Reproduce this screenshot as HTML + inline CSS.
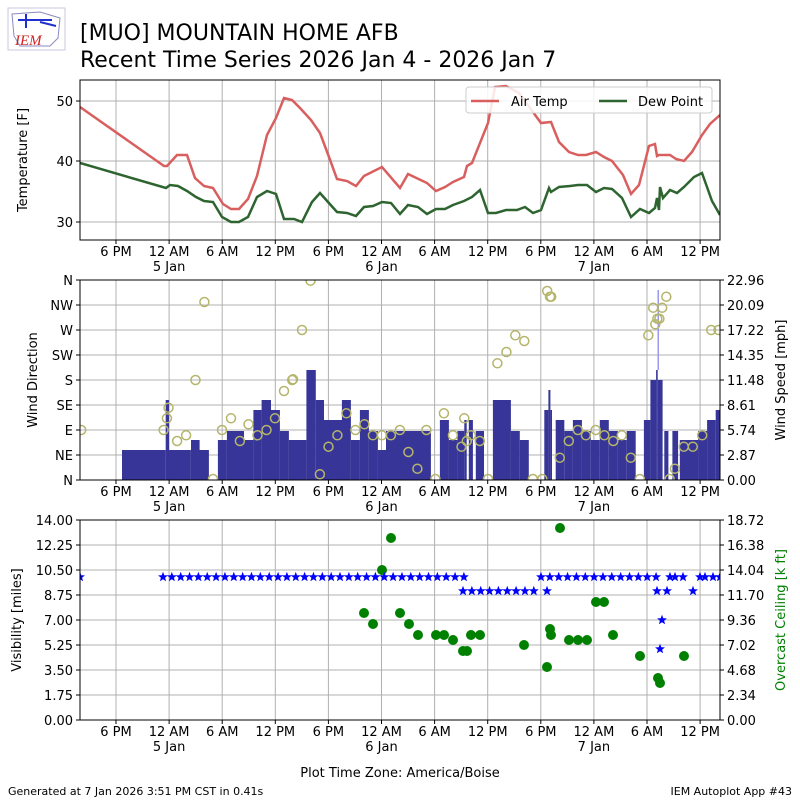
<!DOCTYPE html>
<html><head><meta charset="utf-8"><style>
body{margin:0;background:#fff}
svg{display:block;font-family:"DejaVu Sans","Liberation Sans",sans-serif}
</style></head><body>
<svg id="s" width="800" height="800" xmlns="http://www.w3.org/2000/svg">
<rect width="800" height="800" fill="#fff"/>
<rect x="8" y="8" width="57" height="42" fill="#fff" stroke="#c8c8e0"/>
<path d="M12 14 L40 12 L60 18 L58 38 L50 46 L20 46 L14 36 Z" fill="none" stroke="#8a8ac0" stroke-width="1"/>
<text x="15" y="45" font-family="Liberation Serif,serif" font-style="italic" font-size="15" fill="#d02020">IEM</text>
<path d="M18 20 L52 20 M26 14 L26 28 M40 22 L56 26" stroke="#2030d0" stroke-width="2"/>
<text x="80" y="40" font-size="22">[MUO] MOUNTAIN HOME AFB</text>
<text x="80" y="67" font-size="22">Recent Time Series 2026 Jan 4 - 2026 Jan 7</text>
<g id="g"></g>
<text x="8" y="795" font-size="11">Generated at 7 Jan 2026 3:51 PM CST in 0.41s</text>
<text x="792" y="795" font-size="11" text-anchor="end">IEM Autoplot App #43</text>
<text x="400" y="777" font-size="13" text-anchor="middle">Plot Time Zone: America/Boise</text>
</svg>
<script>
let h='';
const X=[];for(let i=0;i<12;i++)X.push(116+53.1*i);
const xl=['6 PM','12 AM','6 AM','12 PM','6 PM','12 AM','6 AM','12 PM','6 PM','12 AM','6 AM','12 PM'];
const dl={1:'5 Jan',5:'6 Jan',9:'7 Jan'};
function panel(top,bot,ys){
  h+=`<defs><clipPath id="c${top}"><rect x="80" y="${top}" width="640" height="${bot-top}"/></clipPath></defs>`;
  X.forEach(x=>h+=`<line x1="${x}" y1="${top}" x2="${x}" y2="${bot}" stroke="#b0b0b0" stroke-width="1"/>`);
  ys.forEach(y=>h+=`<line x1="80" y1="${y}" x2="720" y2="${y}" stroke="#b0b0b0" stroke-width="1"/>`);
  X.forEach((x,i)=>{h+=`<line x1="${x}" y1="${bot}" x2="${x}" y2="${bot+4}" stroke="#000"/><text x="${x}" y="${bot+16}" font-size="13" text-anchor="middle">${xl[i]}</text>`;
   if(dl[i])h+=`<text x="${x}" y="${bot+31}" font-size="13" text-anchor="middle">${dl[i]}</text>`;});
}
function frame(top,bot){h+=`<rect x="80" y="${top}" width="640" height="${bot-top}" fill="none" stroke="#000" stroke-width="1"/>`;}
function lt(y,t,x=73){h+=`<line x1="76" y1="${y}" x2="80" y2="${y}" stroke="#000"/><text x="${x}" y="${y+5}" font-size="13" text-anchor="end">${t}</text>`;}
function rt(y,t){h+=`<line x1="720" y1="${y}" x2="724" y2="${y}" stroke="#000"/><text x="727" y="${y+5}" font-size="13">${t}</text>`;}
panel(80,240,[101,161,222]);
const air=[[80,107],[164,166],[167,166],[177,155],[187,155],[195,178],[204,186],[213,188],[223,204],[231,209],[239,209],[248,199],[257,176],[267,135],[276,118],[284,98],[292,100],[300,108],[311,120],[320,133],[329,157],[337,179],[347,181],[356,186],[364,176],[382,167],[400,188],[408,174],[427,183],[436,191],[445,187],[453,182],[464,177],[467,166],[472,163],[488,123],[495,87],[506,86],[519,93],[541,123],[551,122],[559,142],[569,152],[578,155],[586,155],[596,152],[604,157],[612,161],[623,175],[631,194],[639,185],[649,146],[655,144],[657,156],[659,155],[670,155],[676,159],[684,161],[692,152],[702,135],[710,124],[720,115]];
const dew=[[80,163],[166,188],[170,185],[178,186],[187,191],[196,197],[204,201],[213,202],[222,217],[231,222],[239,222],[248,217],[257,197],[267,191],[276,194],[284,219],[294,219],[302,222],[312,202],[320,193],[328,202],[337,212],[347,213],[356,216],[364,207],[373,206],[382,202],[391,203],[400,214],[408,205],[418,207],[427,214],[436,209],[445,209],[453,205],[464,201],[472,197],[480,190],[488,213],[496,213],[506,210],[517,210],[525,207],[533,213],[541,210],[549,188],[551,192],[559,187],[570,186],[578,185],[587,185],[596,192],[604,188],[612,189],[622,198],[631,217],[640,209],[649,213],[655,208],[657,198],[659,210],[660,187],[663,198],[670,190],[677,193],[684,187],[694,177],[702,173],[712,201],[720,215]];
h+=`<g clip-path="url(#c80)"><polyline points="${air.join(' ')}" fill="none" stroke="#d95f5f" stroke-width="2.5"/><polyline points="${dew.join(' ')}" fill="none" stroke="#2e6430" stroke-width="2.5"/></g>`;
frame(80,240);
lt(222,'30');lt(161,'40');lt(101,'50');
h+=`<text transform="translate(27,160) rotate(-90)" font-size="13" text-anchor="middle">Temperature [F]</text>`;
h+=`<rect x="466" y="87" width="246" height="26" rx="3" fill="#fff" fill-opacity="0.85" stroke="#ccc"/>
<line x1="471" y1="101" x2="499" y2="101" stroke="#d95f5f" stroke-width="2.5"/><text x="511" y="106" font-size="13">Air Temp</text>
<line x1="599" y1="101" x2="627" y2="101" stroke="#2e6430" stroke-width="2.5"/><text x="638" y="106" font-size="13">Dew Point</text>`;
const ys2=[];for(let i=0;i<=8;i++)ys2.push(280+25*i);
panel(280,480,ys2);
const bars=[[103,210,450],[210,218,400],[218,272,450],[272,293,440],[293,316,450],[338,360,440],[360,402,431],[402,425,440],[425,445,410],[445,468,400],[468,490,410],[490,512,431],[512,555,440],[555,578,370],[578,598,400],[598,642,420],[642,664,400],[664,686,440],[686,708,410],[708,730,431],[730,750,450],[750,860,431],[882,904,420],[904,925,440],[925,942,431],[942,948,420],[953,963,420],[970,990,431],[1012,1056,400],[1056,1078,431],[1078,1100,440],[1138,1148,410],[1148,1153,390],[1153,1157,410],[1166,1187,420],[1187,1208,431],[1208,1230,420],[1230,1252,431],[1252,1274,440],[1274,1296,420],[1296,1318,431],[1318,1340,440],[1340,1362,431],[1382,1398,420],[1398,1412,380],[1412,1416,370],[1416,1428,380],[1432,1442,431],[1452,1466,431],[1470,1515,440],[1515,1537,431],[1537,1558,420],[1558,1570,410]];
const zx=v=>80+v*0.408;
h+='<g clip-path="url(#c280)">';
bars.forEach(b=>h+=`<rect x="${zx(b[0]).toFixed(1)}" y="${b[2]}" width="${(zx(b[1])-zx(b[0])).toFixed(1)}" height="${480-b[2]}" fill="#373597"/>`);
h+=`<rect x="657.5" y="290" width="1.5" height="80" fill="#9999ee"/>`;
const circ=[[3,450],[205,450],[213,415],[217,383],[238,483],[260,466],[283,300],[305,66],[326,597],[348,450],[370,415],[392,483],[413,433],[435,466],[457,450],[478,415],[500,333],[520,300],[522,298],[544,150],[565,2],[588,583],[609,500],[631,466],[653,400],[675,450],[697,433],[718,466],[740,466],[762,466],[784,450],[805,516],[827,566],[849,450],[871,597],[892,400],[914,466],[935,500],[942,415],[948,483],[958,466],[980,483],[1000,597],[1023,250],[1045,216],[1067,166],[1089,183],[1110,597],[1133,597],[1145,33],[1152,50],[1155,50],[1176,533],[1198,483],[1220,450],[1240,466],[1264,450],[1285,466],[1307,483],[1328,466],[1350,533],[1372,597],[1393,166],[1405,83],[1410,133],[1415,116],[1420,116],[1427,83],[1437,50],[1445,597],[1458,566],[1480,500],[1502,500],[1525,466],[1547,150],[1565,150]];
circ.forEach(c=>h+=`<circle cx="${zx(c[0]).toFixed(1)}" cy="${(280+c[1]/3).toFixed(1)}" r="4.5" fill="none" stroke="#b5b56c" stroke-width="1.5"/>`);
h+='</g>';
frame(280,480);
['N','NW','W','SW','S','SE','E','NE','N'].forEach((t,i)=>lt(280+25*i,t));
['22.96','20.09','17.22','14.35','11.48','8.61','5.74','2.87','0.00'].forEach((t,i)=>rt(280+25*i,t));
h+=`<text transform="translate(37,380) rotate(-90)" font-size="13" text-anchor="middle">Wind Direction</text>`;
h+=`<text transform="translate(785,380) rotate(-90)" font-size="13" text-anchor="middle">Wind Speed [mph]</text>`;
const ys3=[];for(let i=0;i<=8;i++)ys3.push(520+25*i);
panel(520,720,ys3);
h+='<g clip-path="url(#c520)">';
const gd=[[364,613],[373,624],[382,570],[391,538],[400,613],[409,624],[418,635],[436,635],[444,635],[453,640],[463,651],[467,651],[471,635],[480,635],[524,645],[547,667],[550,629],[551,635],[560,528],[569,640],[578,640],[587,640],[596,602],[604,602],[613,635],[640,656],[658,678],[660,683],[684,656]];
gd.forEach(p=>h+=`<circle cx="${p[0]}" cy="${p[1]}" r="5" fill="#008000"/>`);
function star(x,y){let p=[];for(let k=0;k<10;k++){const r=k%2?2.2:5.2,a=-Math.PI/2+k*Math.PI/5;p.push((x+r*Math.cos(a)).toFixed(1)+','+(y+r*Math.sin(a)).toFixed(1));}h+=`<polygon points="${p.join(' ')}" fill="#0000ff"/>`;}
const st=[[80,577]];
for(let x=163;x<=468;x+=8.85)st.push([x,577]);
for(let x=463;x<=536;x+=8.85)st.push([x,591]);
for(let x=541;x<=658;x+=8.85)st.push([x,577]);
[[547,591],[657,591],[667,591],[662,620],[660,649],[670,577],[675,577],[683,577],[693,591],[700,577],[705,577],[713,577],[720,577]].forEach(s=>st.push(s));
st.forEach(s=>star(s[0],s[1]));
h+='</g>';
frame(520,720);
['14.00','12.25','10.50','8.75','7.00','5.25','3.50','1.75','0.00'].forEach((t,i)=>lt(520+25*i,t));
['18.72','16.38','14.04','11.70','9.36','7.02','4.68','2.34','0.00'].forEach((t,i)=>rt(520+25*i,t));
h+=`<text transform="translate(21,620) rotate(-90)" font-size="13" text-anchor="middle">Visibility [miles]</text>`;
h+=`<text transform="translate(785,620) rotate(-90)" font-size="13" text-anchor="middle" fill="#008000">Overcast Ceiling [k ft]</text>`;
document.getElementById('g').innerHTML=h;
</script>
</body></html>
